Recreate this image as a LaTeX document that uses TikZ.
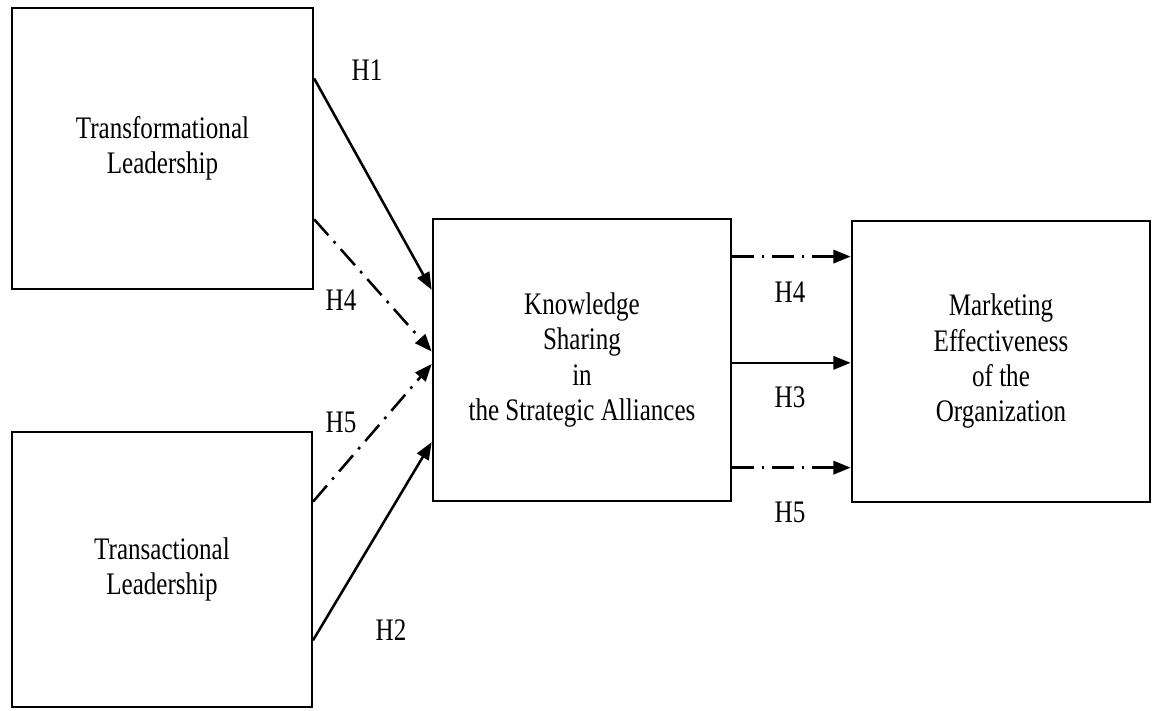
\documentclass[tikz,border=0pt]{standalone}
\usepackage{fontspec}
\setmainfont[FakeStretch=0.8]{Liberation Serif}
\usepackage{tikz}
\usetikzlibrary{positioning, arrows.meta, calc}

\begin{document}
\begin{tikzpicture}[x=0.75pt, y=-0.75pt, line width=1.9pt, >={Triangle[length=13pt,width=10pt]}]
	\tikzstyle{construct}=[draw, line width=1.5pt, align=center, inner sep=0pt, font=\fontsize{23.5}{26.5}\selectfont]
	\tikzstyle{hyp}=[inner sep=0pt, font=\fontsize{23.5}{26.5}\selectfont]
	\tikzstyle{direct}=[->, shorten >=0pt]
	\tikzstyle{mediated}=[->, dash pattern=on 16pt off 6pt on 2pt off 6pt]
	
	\useasboundingbox (0,0) rectangle (1155,710);
	
	% Constructs
	\node[construct, minimum width=226pt, minimum height=211pt] (tfl) at (162.5,148.5) {Transformational\\Leadership};
	\node[construct, minimum width=225pt, minimum height=206pt] (tsl) at (162,569.5) {Transactional\\Leadership};
	\node[construct, minimum width=224pt, minimum height=211pt] (ks) at (582,360) {Knowledge\\Sharing\\in\\the Strategic Alliances};
	\node[construct, minimum width=224pt, minimum height=211pt] (me) at (1001,361.5) {Marketing\\Effectiveness\\of the\\Organization};
	
	% Arrow ends on the box sides
	\coordinate (tfl-1) at ($(tfl.north east)!.253!(tfl.south east)$);
	\coordinate (tfl-2) at ($(tfl.north east)!.75!(tfl.south east)$);
	\coordinate (tsl-1) at ($(tsl.north east)!.255!(tsl.south east)$);
	\coordinate (tsl-2) at ($(tsl.north east)!.756!(tsl.south east)$);
	\coordinate (ks-1) at ($(ks.north west)!.252!(ks.south west)$);
	\coordinate (ks-2) at ($(ks.north west)!.47!(ks.south west)$);
	\coordinate (ks-3) at ($(ks.north west)!.514!(ks.south west)$);
	\coordinate (ks-4) at ($(ks.north west)!.79!(ks.south west)$);
	\foreach \name / \f in {1/.135, 2/.51, 3/.88}
	\coordinate (ks-r\name) at ($(ks.north east)!\f!(ks.south east)$);
	
	% Leadership -> knowledge sharing
	\draw[direct] (tfl-1) -- (ks-1);
	\draw[mediated] (tfl-2) -- (ks-2);
	\draw[mediated] (tsl-1) -- (ks-3);
	\draw[direct] (tsl-2) -- (ks-4);
	
	% Knowledge sharing -> effectiveness
	\draw[mediated] (ks-r1) -- (ks-r1 -| me.west);
	\draw[direct] (ks-r2) -- (ks-r2 -| me.west);
	\draw[mediated] (ks-r3) -- (ks-r3 -| me.west);
	
	% Hypotheses
	\node[hyp] (h1) at (367,70) {H1};
	\node[hyp] (h4a) at (341,300) {H4};
	\node[hyp] (h5a) at (341,422) {H5};
	\node[hyp] (h2) at (391,630) {H2};
	\node[hyp] (h4b) at (790,292) {H4};
	\node[hyp] (h3) at (790,397) {H3};
	\node[hyp] (h5b) at (790,512) {H5};
\end{tikzpicture}
\end{document}
